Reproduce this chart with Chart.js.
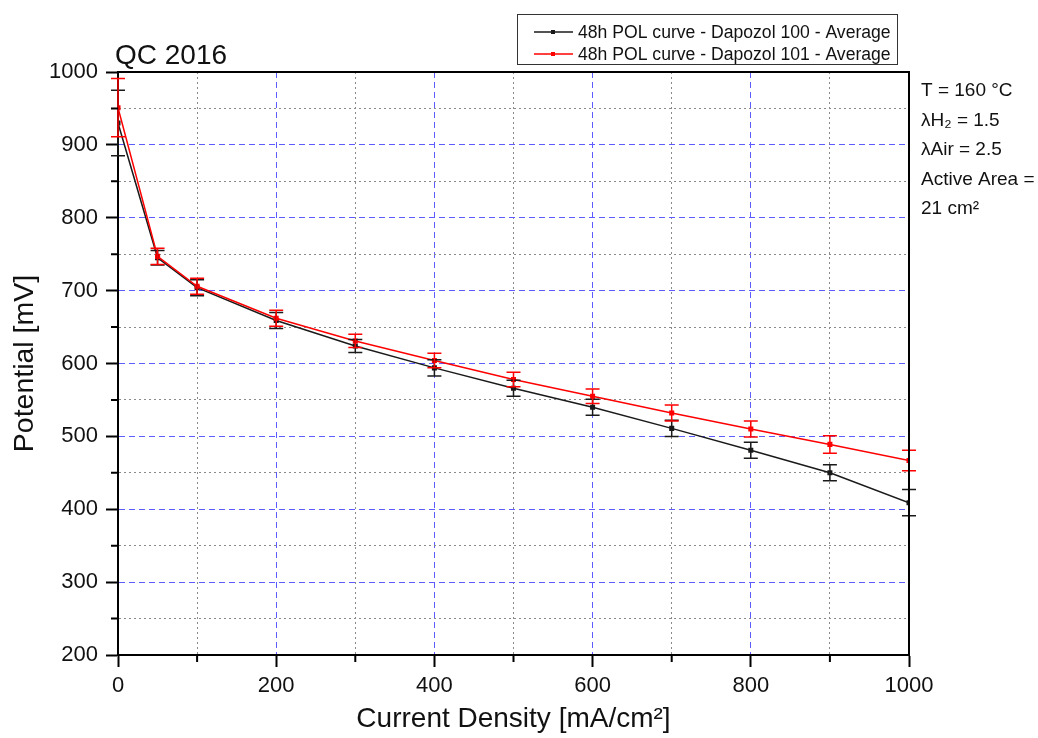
<!DOCTYPE html>
<html>
<head>
<meta charset="utf-8">
<script src="https://cdn.jsdelivr.net/npm/chart.js@4.4.1/dist/chart.umd.min.js"></script>
<style>
  body { margin: 0; background: #fff; }
</style>
</head>
<body>
<canvas id="pol_chart" width="1038" height="738"></canvas>
<script>
const FONT = "'Liberation Sans', Arial, sans-serif";

// current density [mA/cm2]
const currentDensity = [0, 50, 100, 200, 300, 400, 500, 600, 700, 800, 900, 1000];

// Dapozol 100 (black)
const potential100 = [930, 745, 704, 659, 624, 594, 566, 540, 511, 481, 450, 409];
const error100 = [45, 10, 11, 11, 9, 11, 11, 11, 11, 11, 11, 18];

// Dapozol 101 (red)
const potential101 = [951, 747, 706, 662, 631, 604, 578, 555, 532, 510, 489, 467];
const error101 = [40, 11, 11, 11, 9, 10, 10, 10, 11, 11, 12, 14];

const chartTitle = 'QC 2016';
const notes = ['T = 160 \u00B0C', '\u03BBH\u2082 = 1.5', '\u03BBAir = 2.5', 'Active Area =', '21 cm\u00B2'];

const ctx = document.getElementById('pol_chart').getContext('2d');

function toPoints(ys) {
    return currentDensity.map((x, i) => ({ x: x, y: ys[i] }));
}

// error bars drawn through the scales
const errorBars = {
    id: 'errorBars',
    afterDatasetsDraw(chart) {
        const c = chart.ctx;
        const xs = chart.scales.x, ys = chart.scales.y;
        chart.data.datasets.forEach(ds => {
            c.save();
            c.strokeStyle = ds.borderColor;
            c.lineWidth = 1.5;
            ds.data.forEach((p, i) => {
                const px = xs.getPixelForValue(p.x);
                const top = ys.getPixelForValue(p.y + ds.errors[i]);
                const bot = ys.getPixelForValue(p.y - ds.errors[i]);
                c.beginPath();
                c.moveTo(px, top); c.lineTo(px, bot);
                c.moveTo(px - 7, top); c.lineTo(px + 7, top);
                c.moveTo(px - 7, bot); c.lineTo(px + 7, bot);
                c.stroke();
            });
            c.restore();
        });
    }
};

// frame, minor ticks, title, legend box and notes
const decorations = {
    id: 'decorations',
    afterDraw(chart) {
        const c = chart.ctx;
        const a = chart.chartArea;
        const xs = chart.scales.x, ys = chart.scales.y;
        c.save();
        // top + right frame
        c.strokeStyle = '#000';
        c.lineWidth = 2;
        c.beginPath();
        c.moveTo(a.left, a.top); c.lineTo(a.right, a.top); c.lineTo(a.right, a.bottom);
        c.stroke();
        // minor ticks
        c.beginPath();
        xs.ticks.forEach(t => {
            if (t.value % 200 !== 0) {
                const px = xs.getPixelForValue(t.value);
                c.moveTo(px, a.bottom); c.lineTo(px, a.bottom + 7);
            }
        });
        ys.ticks.forEach(t => {
            if (t.value % 100 !== 0) {
                const py = ys.getPixelForValue(t.value);
                c.moveTo(a.left, py); c.lineTo(a.left - 7, py);
            }
        });
        c.stroke();

        // title
        c.fillStyle = '#111';
        c.font = '28px ' + FONT;
        c.textAlign = 'left';
        c.textBaseline = 'alphabetic';
        c.fillText(chartTitle, 115, 64);

        // legend
        c.strokeStyle = '#333';
        c.lineWidth = 1;
        c.strokeRect(517.5, 14.5, 380, 50);
        c.font = '17.6px ' + FONT;
        c.textBaseline = 'middle';
        chart.data.datasets.forEach((ds, i) => {
            const ly = 32 + i * 22;
            c.strokeStyle = ds.borderColor;
            c.lineWidth = 1.5;
            c.beginPath();
            c.moveTo(534, ly); c.lineTo(573, ly);
            c.stroke();
            c.fillStyle = ds.borderColor;
            c.fillRect(551, ly - 2, 4, 4);
            c.fillStyle = '#111';
            c.fillText(ds.label, 578, ly + 1);
        });

        // condition notes
        c.font = '19px ' + FONT;
        notes.forEach((s, i) => {
            c.fillText(s, 921, 91 + i * 29.5);
        });
        c.restore();
    }
};

const gridStyleX = v => v % 200 === 0;
const gridStyleY = v => v % 100 === 0;

const pol_chart = new Chart(ctx, {
    type: 'line',
    data: {
        datasets: [
            {
                label: '48h POL curve - Dapozol 100 - Average',
                data: toPoints(potential100),
                errors: error100,
                borderColor: '#1a1a1a',
                backgroundColor: '#1a1a1a',
                borderWidth: 1.5,
                pointStyle: 'rect',
                pointRadius: 2.5,
                tension: 0,
                order: 1
            },
            {
                label: '48h POL curve - Dapozol 101 - Average',
                data: toPoints(potential101),
                errors: error101,
                borderColor: '#ff0000',
                backgroundColor: '#ff0000',
                borderWidth: 1.5,
                pointStyle: 'rect',
                pointRadius: 2.5,
                tension: 0,
                order: 0
            }
        ]
    },
    options: {
        responsive: false,
        animation: false,
        layout: { padding: { left: 0, right: 129, top: 72, bottom: 0 } },
        plugins: {
            legend: { display: false },
            tooltip: { enabled: false }
        },
        scales: {
            x: {
                type: 'linear',
                min: 0,
                max: 1000,
                afterFit: s => { s.height = 83; },
                ticks: {
                    stepSize: 100,
                    autoSkip: false,
                    maxRotation: 0,
                    padding: 6,
                    color: '#111',
                    font: { family: FONT, size: 22 },
                    callback: v => (v % 200 === 0 ? v : '')
                },
                grid: {
                    color: c => (gridStyleX(c.tick.value) ? '#5c5cff' : '#8a8a8a'),
                    lineWidth: 1,
                    tickLength: 12,
                    tickWidth: 2,
                    tickColor: c => (gridStyleX(c.tick.value) ? '#000' : 'rgba(0,0,0,0)')
                },
                border: {
                    display: true,
                    color: '#000',
                    width: 2,
                    dash: c => (gridStyleX(c.tick.value) ? [6, 4] : [2, 3])
                },
                title: {
                    display: true,
                    text: 'Current Density [mA/cm\u00B2]',
                    color: '#111',
                    font: { family: FONT, size: 28 },
                    padding: { top: 0, bottom: 2 }
                }
            },
            y: {
                min: 200,
                max: 1000,
                afterFit: s => { s.width = 118; },
                ticks: {
                    stepSize: 50,
                    autoSkip: false,
                    padding: 8,
                    color: '#111',
                    font: { family: FONT, size: 22 },
                    callback: v => (v % 100 === 0 ? v : '')
                },
                grid: {
                    color: c => (gridStyleY(c.tick.value) ? '#5c5cff' : '#8a8a8a'),
                    lineWidth: 1,
                    tickLength: 12,
                    tickWidth: 2,
                    tickColor: c => (gridStyleY(c.tick.value) ? '#000' : 'rgba(0,0,0,0)')
                },
                border: {
                    display: true,
                    color: '#000',
                    width: 2,
                    dash: c => (gridStyleY(c.tick.value) ? [6, 4] : [2, 3])
                },
                title: {
                    display: true,
                    text: 'Potential [mV]',
                    color: '#111',
                    font: { family: FONT, size: 28.5 },
                    padding: { top: 8, bottom: 0 }
                }
            }
        }
    },
    plugins: [errorBars, decorations]
});
</script>
</body>
</html>
